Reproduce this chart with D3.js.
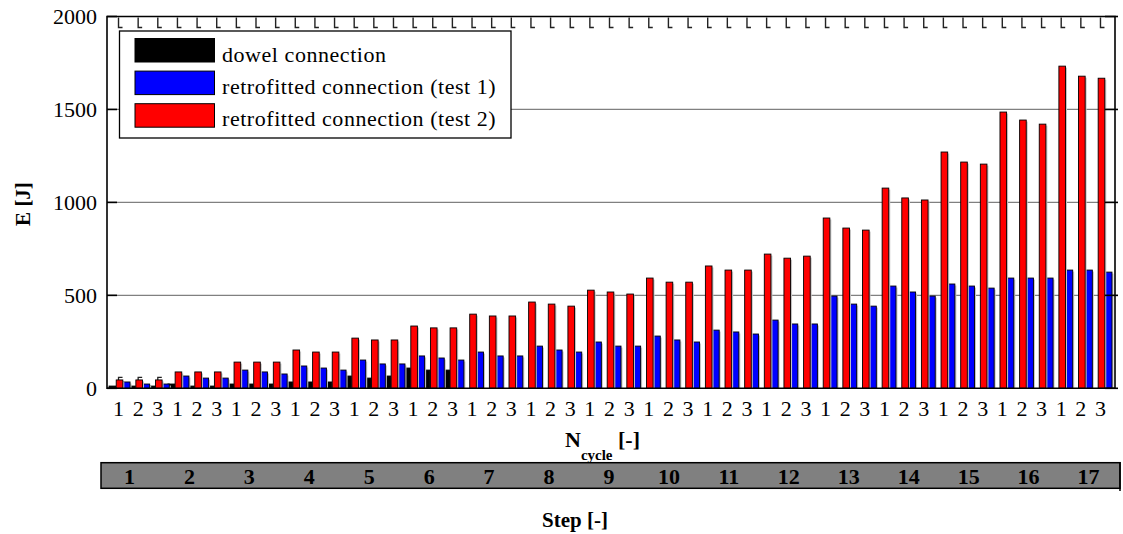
<!DOCTYPE html>
<html>
<head>
<meta charset="utf-8">
<script src="https://cdn.jsdelivr.net/npm/d3@7/dist/d3.min.js"></script>
<style>
  body { margin: 0; background: #fff; }
  svg text { font-family: 'Liberation Serif', 'DejaVu Serif', serif; fill: #000; }
  svg text.bold { font-family: 'Liberation Serif', 'DejaVu Serif', serif; font-weight: 700; }
</style>
</head>
<body>
<div id="chart"></div>
<script>
// energy per cycle [J]
const steps = d3.range(1, 18)
const cycleLabels = ['1', '2', '3']
const dowel = [12, 12, 12, 23, 12, 12, 23, 23, 23, 34, 34, 34, 66, 55, 66, 109, 98, 98]
const test1 = [34, 23, 23, 66, 55, 55, 98, 88, 77, 120, 109, 98, 152, 131, 131, 174, 163, 152,
  195, 174, 174, 227, 206, 195, 249, 227, 227, 281, 260, 249, 313, 303, 292, 367, 346, 346,
  496, 453, 442, 550, 518, 496, 561, 550, 539, 593, 593, 593, 636, 636, 625]
const test2 = [45, 45, 45, 88, 88, 88, 141, 141, 141, 206, 195, 195, 270, 260, 260, 335, 325, 325,
  399, 389, 389, 464, 453, 442, 528, 518, 507, 593, 571, 571, 658, 636, 636, 722, 700, 711,
  916, 862, 851, 1077, 1024, 1013, 1271, 1217, 1206, 1486, 1443, 1421, 1733, 1679, 1668]
const yTicks = [0, 500, 1000, 1500, 2000]

const series = [
  { key: 'dowel', name: 'dowel connection', color: '#000000', values: dowel },
  { key: 'test1', name: 'retrofitted connection (test 1)', color: '#0000ff', values: test1 },
  { key: 'test2', name: 'retrofitted connection (test 2)', color: '#ff0000', values: test2 }
]

const W = 1123
const H = 534
const plotL = 107
const plotR = 1115
const plotT = 16.5
const plotB = 388.3

const svg = d3.select('#chart').append('svg')
  .attr('width', W)
  .attr('height', H)

const cycles = d3.range(test2.length)
const x = d3.scaleBand().domain(cycles).range([108.7, 1110.3])
// order inside one cycle: black, red, blue
const x1 = d3.scaleBand().domain(['dowel', 'test2', 'test1']).range([-9.5, 11.5]).paddingInner(0.08)
const y = d3.scaleLinear().domain([0, 2000]).range([plotB, plotT])
const cx = i => x(i) + x.bandwidth() / 2

// grid lines
svg.append('g').selectAll('line')
  .data(yTicks.filter(d => d > 0 && d < 2000))
  .enter().append('line')
  .attr('x1', plotL).attr('x2', plotR)
  .attr('y1', d => y(d)).attr('y2', d => y(d))
  .attr('stroke', '#808080').attr('stroke-width', 1.2)

// bottom cycle ticks (mostly hidden behind bars)
svg.append('g').selectAll('path')
  .data(cycles)
  .enter().append('path')
  .attr('d', i => `M${cx(i)},${plotB}V${plotB - 11}H${cx(i) + 4}`)
  .attr('fill', 'none').attr('stroke', '#222').attr('stroke-width', 1.3)

// bars with light shadow
series.forEach(s => {
  let g = svg.append('g')
  g.selectAll('.shadow')
    .data(s.values)
    .enter().append('rect')
    .attr('class', 'shadow')
    .attr('x', (d, i) => cx(i) + x1(s.key) + 1.5)
    .attr('y', d => y(d) + 1.5)
    .attr('width', x1.bandwidth())
    .attr('height', d => Math.max(0, plotB - y(d) - 1.5))
    .attr('fill', '#c4c4c4')
  g.selectAll('.bar')
    .data(s.values)
    .enter().append('rect')
    .attr('class', 'bar')
    .attr('x', (d, i) => cx(i) + x1(s.key))
    .attr('y', d => y(d))
    .attr('width', x1.bandwidth())
    .attr('height', d => plotB - y(d))
    .attr('fill', s.color)
    .attr('stroke', '#000').attr('stroke-width', 0.9)
})

// top cycle ticks
svg.append('g').selectAll('path')
  .data(cycles)
  .enter().append('path')
  .attr('d', i => `M${cx(i)},${plotT + 1}V${plotT + 11}H${cx(i) + 4}`)
  .attr('fill', 'none').attr('stroke', '#222').attr('stroke-width', 1.4)

// frame
svg.append('path')
  .attr('d', `M${plotL},${plotT}H${plotR}V${plotB}H${plotL}Z`)
  .attr('fill', 'none').attr('stroke', '#000').attr('stroke-width', 1.6)

// y ticks, inward on both sides
let yt = svg.append('g')
yt.selectAll('.lt').data(yTicks).enter().append('line')
  .attr('class', 'lt')
  .attr('x1', plotL).attr('x2', plotL + 10)
  .attr('y1', d => y(d)).attr('y2', d => y(d))
  .attr('stroke', '#000').attr('stroke-width', 1.6)
yt.selectAll('.rt').data(yTicks).enter().append('line')
  .attr('class', 'rt')
  .attr('x1', plotR - 10).attr('x2', plotR + 3)
  .attr('y1', d => y(d)).attr('y2', d => y(d))
  .attr('stroke', '#000').attr('stroke-width', 1.6)
yt.selectAll('text').data(yTicks).enter().append('text')
  .attr('x', 97).attr('y', d => y(d) + 7.5)
  .attr('text-anchor', 'end')
  .style('font-size', '22px')
  .text(d => d)

// x tick labels
svg.append('g').selectAll('text')
  .data(cycles)
  .enter().append('text')
  .attr('x', i => cx(i))
  .attr('y', 416)
  .attr('text-anchor', 'middle')
  .style('font-size', '22px')
  .text(i => cycleLabels[i % 3])

// axis titles
svg.append('text')
  .attr('class', 'bold')
  .attr('transform', 'translate(29.5,204) rotate(-90)')
  .attr('text-anchor', 'middle')
  .style('font-size', '21px')
  .text('E [J]')

let nt = svg.append('text')
  .attr('class', 'bold')
  .attr('x', 565).attr('y', 447)
  .style('font-size', '22px')
nt.append('tspan').text('N')
nt.append('tspan').attr('dy', 13).style('font-size', '15px').text('cycle')
nt.append('tspan').attr('dy', -13).text(' [-]')

// step bar
const xs = d3.scaleBand().domain(steps).range([101, 1120])
svg.append('rect')
  .attr('x', 101).attr('y', 462.7)
  .attr('width', 1019).attr('height', 25.6)
  .attr('fill', '#808080')
  .attr('stroke', '#000').attr('stroke-width', 1.5)
svg.append('line')
  .attr('x1', 1120).attr('x2', 1120)
  .attr('y1', 462).attr('y2', 491)
  .attr('stroke', '#000').attr('stroke-width', 1.5)
svg.append('g').selectAll('text')
  .data(steps)
  .enter().append('text')
  .attr('class', 'bold')
  .attr('x', d => xs(d) + xs.bandwidth() / 2 - 1.5)
  .attr('y', 483.5)
  .attr('text-anchor', 'middle')
  .style('font-size', '22px')
  .text(d => d)

svg.append('text')
  .attr('class', 'bold')
  .attr('x', 575).attr('y', 527)
  .attr('text-anchor', 'middle')
  .style('font-size', '21px')
  .text('Step [-]')

// legend
let lg = svg.append('g')
lg.append('rect')
  .attr('x', 119.5).attr('y', 31)
  .attr('width', 391.5).attr('height', 107)
  .attr('fill', '#fff')
  .attr('stroke', '#000').attr('stroke-width', 1.3)
lg.selectAll('.sw')
  .data(series)
  .enter().append('rect')
  .attr('class', 'sw')
  .attr('x', 135).attr('y', (d, i) => 38.5 + i * 32.6)
  .attr('width', 79.5).attr('height', 23.5)
  .attr('fill', d => d.color)
  .attr('stroke', '#000').attr('stroke-width', 1)
lg.selectAll('text')
  .data(series)
  .enter().append('text')
  .attr('x', 222).attr('y', (d, i) => 61.5 + i * 32.4)
  .style('font-size', '22px')
  .style('letter-spacing', '0.55px')
  .text(d => d.name)
</script>
</body>
</html>
